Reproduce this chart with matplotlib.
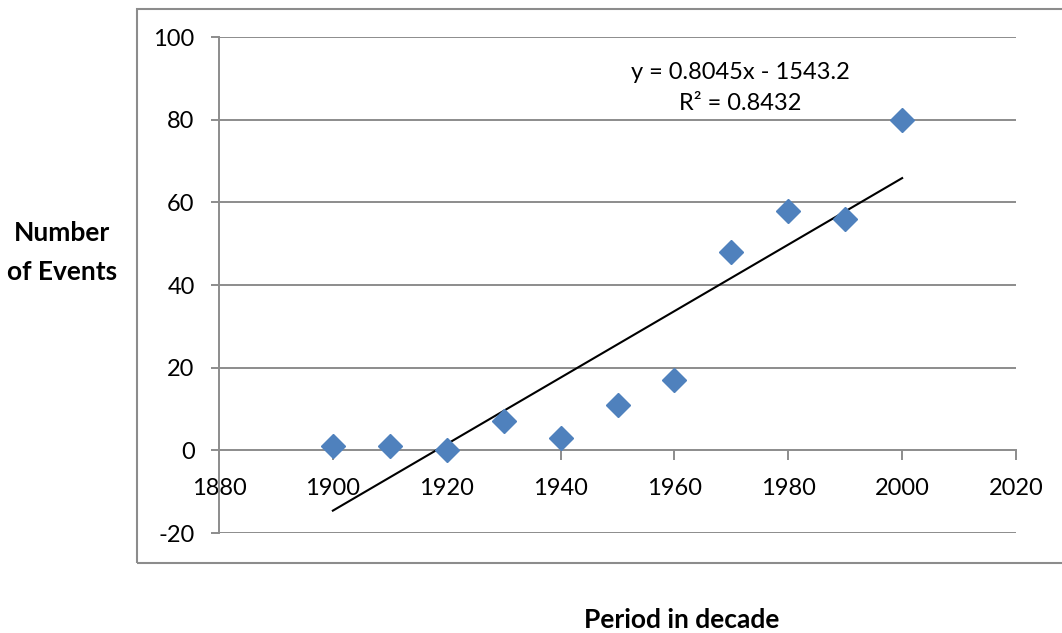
import numpy as np
import matplotlib
matplotlib.use("Agg")
import matplotlib.pyplot as plt
from matplotlib.patches import Rectangle

plt.rcParams['font.family'] = ['Lato', 'DejaVu Sans']
plt.rcParams['axes.unicode_minus'] = False

# decade vs number of events
decades = [1900, 1910, 1920, 1930, 1940, 1950, 1960, 1970, 1980, 1990, 2000]
events = [1, 1, 0, 7, 3, 11, 17, 48, 58, 56, 80]

x_ticks = [1880, 1900, 1920, 1940, 1960, 1980, 2000, 2020]
y_ticks = [-20, 0, 20, 40, 60, 80, 100]

W, H = 1062, 633
fig = plt.figure(figsize=(W / 100, H / 100), dpi=100)

# outer chart frame
fig.patches.append(Rectangle((137 / W, 1 - 563 / H), (W + 10 - 137) / W, (563 - 9) / H,
                             transform=fig.transFigure, fill=False,
                             edgecolor="#8c8c8c", linewidth=1.5))

ax = fig.add_axes([219 / W, 1 - 533 / H, (1016 - 219) / W, (533 - 37) / H])

grid_c = "#8c8c8c"
for yv in y_ticks:
    if yv != 0:
        ax.axhline(yv, color=grid_c, linewidth=1.4, zorder=1)

ax.spines['top'].set_visible(False)
ax.spines['right'].set_visible(False)
ax.spines['left'].set_color(grid_c)
ax.spines['left'].set_linewidth(1.4)
ax.spines['bottom'].set_position(('data', 0))
ax.spines['bottom'].set_color(grid_c)
ax.spines['bottom'].set_linewidth(1.4)

ax.set_xlim(1880, 2020)
ax.set_ylim(-20, 100)
ax.set_xticks(x_ticks)
ax.set_yticks(y_ticks)
ax.tick_params(axis='x', direction='out', length=7, width=1.4, color=grid_c,
               labelsize=17, pad=13)
ax.tick_params(axis='y', direction='out', length=5.5, width=1.4, color=grid_c,
               labelsize=17, pad=12)

# data points
ax.plot(decades, events, linestyle='none', marker='D', markersize=12.5,
        color="#4f81bd", markeredgecolor="#4f81bd", zorder=4, clip_on=False)

# linear trend line
slope, intercept = np.polyfit(decades, events, 1)
xs = np.array([decades[0], decades[-1]])
ax.plot(xs, slope * xs + intercept, color="black", linewidth=1.5, zorder=3)

pred = slope * np.array(decades) + intercept
ss_res = np.sum((np.array(events) - pred) ** 2)
ss_tot = np.sum((np.array(events) - np.mean(events)) ** 2)
r2 = 1 - ss_res / ss_tot
ax.text(1971.5, 91.5, f"y = {slope:.4f}x - {abs(intercept):.1f}", ha='center', va='center', fontsize=17)
ax.text(1971.5, 84, f"R² = {r2:.4f}", ha='center', va='center', fontsize=17)

fig.text(62 / W, 1 - 253 / H, "Number\nof Events", ha='center', va='center',
         fontsize=19, fontweight='bold', linespacing=1.75)
fig.text(682 / W, 1 - 620 / H, "Period in decade", ha='center', va='center',
         fontsize=19, fontweight='bold')

fig.savefig("out.png", dpi=100)
